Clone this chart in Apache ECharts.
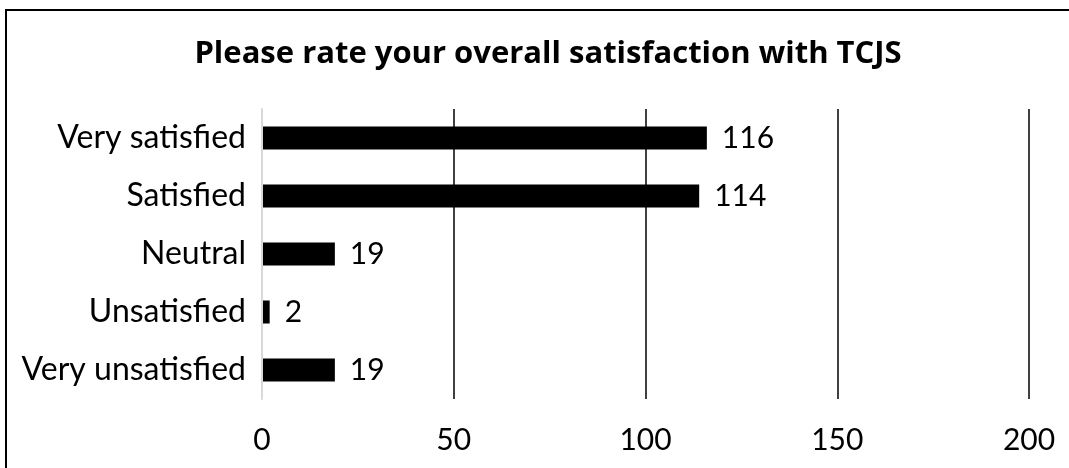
<!DOCTYPE html>
<html>
<head>
<meta charset="utf-8">
<script src="https://cdn.jsdelivr.net/npm/echarts@6/dist/echarts.min.js"></script>
<style>
  html, body { margin: 0; padding: 0; background: #fff; }
  #chart { width: 1069px; height: 468px; }
</style>
</head>
<body>
<div id="chart"></div>
<script>
// Survey responses: overall satisfaction with TCJS
const categories = ['Very satisfied', 'Satisfied', 'Neutral', 'Unsatisfied', 'Very unsatisfied'];
const responses = [116, 114, 19, 2, 19];
const titleText = 'Please rate your overall satisfaction with TCJS';

const FONT = 'Lato, "Open Sans", sans-serif';
const TITLE_FONT = '"Open Sans", Lato, sans-serif';

const chart = echarts.init(document.getElementById('chart'));
chart.setOption({
  backgroundColor: '#fff',
  animation: false,
  title: {
    text: titleText,
    left: 543,
    textAlign: 'center',
    top: 34,
    textStyle: { fontFamily: TITLE_FONT, fontSize: 31, fontWeight: 'bold', color: '#000' }
  },
  grid: { left: 262, right: 40, top: 109, bottom: 69, containLabel: false },
  xAxis: {
    type: 'value',
    min: 0,
    max: 200,
    interval: 50,
    axisLine: { show: false },
    axisTick: { show: false },
    splitLine: { show: true, showMinLine: false, lineStyle: { color: '#000', width: 1.5 } },
    axisLabel: { margin: 26, fontFamily: FONT, fontSize: 30, color: '#000' }
  },
  yAxis: {
    type: 'category',
    data: categories,
    inverse: true,
    z: 5,
    axisLine: { show: true, lineStyle: { color: '#d9d9d9', width: 2 } },
    axisTick: { show: false },
    axisLabel: { margin: 16, fontFamily: FONT, fontSize: 32, color: '#000' }
  },
  series: [{
    type: 'bar',
    data: responses,
    barWidth: 23,
    itemStyle: { color: '#000' },
    label: {
      show: true,
      position: 'right',
      distance: 15,
      fontFamily: FONT,
      fontSize: 30,
      color: '#000'
    }
  }],
  graphic: [{
    type: 'rect',
    silent: true,
    shape: { x: 6, y: 10, width: 1200, height: 600 },
    style: { fill: 'none', stroke: '#000', lineWidth: 2 }
  }]
});
</script>
</body>
</html>
